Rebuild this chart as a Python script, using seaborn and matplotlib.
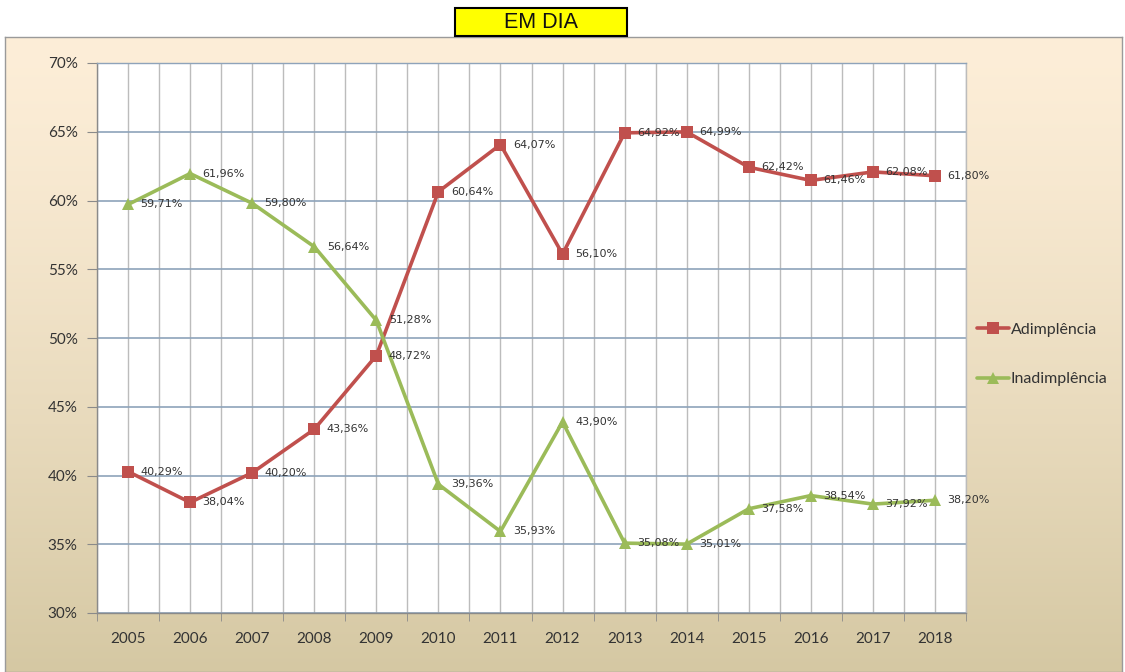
import matplotlib
matplotlib.use('Agg')
import matplotlib.pyplot as plt
import matplotlib.ticker as ticker
from matplotlib.patches import Rectangle
import numpy as np
import pandas as pd
import seaborn as sns

years = [2005, 2006, 2007, 2008, 2009, 2010, 2011, 2012, 2013, 2014, 2015, 2016, 2017, 2018]
adimplencia = [40.29, 38.04, 40.20, 43.36, 48.72, 60.64, 64.07, 56.10, 64.92, 64.99, 62.42, 61.46, 62.08, 61.80]
inadimplencia = [59.71, 61.96, 59.80, 56.64, 51.28, 39.36, 35.93, 43.90, 35.08, 35.01, 37.58, 38.54, 37.92, 38.20]
series_names = ['Adimplência', 'Inadimplência']
y_ticks = [30, 35, 40, 45, 50, 55, 60, 65, 70]
title = 'EM DIA'

df = pd.DataFrame({
    'ano': years * 2,
    'valor': adimplencia + inadimplencia,
    'serie': [series_names[0]] * len(years) + [series_names[1]] * len(years),
})

sns.set_style('white')
plt.rcParams['font.family'] = ['Lato', 'DejaVu Sans']

red = '#c0504d'
green = '#9bbb59'
hgrid = '#8ea3ba'
vgrid = '#bcbcbc'
txt = '#333333'

fig = plt.figure(figsize=(11.25, 6.72), dpi=100)
fig.patch.set_facecolor('white')

# gradient background of the chart area
bg = fig.add_axes([5 / 1125, 0, 1117 / 1125, 635 / 672], zorder=-10)
top = np.array([0xfd, 0xee, 0xd8]) / 255
bot = np.array([0xd5, 0xc8, 0xa3]) / 255
t = np.linspace(0, 1, 256)[:, None] ** 1.3
grad = top[None, :] * (1 - t) + bot[None, :] * t
bg.imshow(grad[:, None, :], aspect='auto', extent=[0, 1, 0, 1])
bg.set_xticks([])
bg.set_yticks([])
for s in bg.spines.values():
    s.set_color('#9a9a9a')
    s.set_linewidth(1)

ax = fig.add_axes([97 / 1125, (672 - 613) / 672, (966 - 97) / 1125, 550 / 672])
ax.set_facecolor('white')

sns.lineplot(data=df, x='ano', y='valor', hue='serie', style='serie',
             palette={series_names[0]: red, series_names[1]: green},
             markers={series_names[0]: 's', series_names[1]: '^'},
             dashes=False, linewidth=2.6, markersize=9, markeredgewidth=0,
             ax=ax, zorder=3)

for vals in (adimplencia, inadimplencia):
    for x, v in zip(years, vals):
        label = f'{v:.2f}'.replace('.', ',') + '%'
        ax.annotate(label, xy=(x, v), xytext=(9, 0), textcoords='offset points',
                    ha='left', va='center', fontsize=8, color=txt,
                    family=['DejaVu Sans'], zorder=4)

ax.set_xlim(2004.5, 2018.5)
ax.set_ylim(30, 70)
ax.set_yticks(y_ticks)
ax.yaxis.set_major_formatter(ticker.FuncFormatter(lambda v, pos: '{:.0f}%'.format(v)))
ax.set_xticks(years)
ax.set_xticklabels([str(y) for y in years])
ax.set_xticks(np.arange(2004.5, 2019, 1.0), minor=True)
ax.tick_params(axis='x', which='major', length=0, pad=14, labelsize=11, labelcolor=txt)
ax.tick_params(axis='x', which='minor', length=6, color='#8a8a8a', direction='out', bottom=True)
ax.tick_params(axis='y', which='major', length=7, color='#8a8a8a', direction='out', left=True,
               pad=7, labelsize=11, labelcolor=txt)
ax.grid(axis='x', which='both', color=vgrid, linewidth=1, zorder=0)
ax.grid(axis='y', which='major', color=hgrid, linewidth=1.2, zorder=0)
ax.set_axisbelow(True)
ax.set_xlabel('')
ax.set_ylabel('')
for name, s in ax.spines.items():
    s.set_linewidth(1)
    s.set_color('#8a8a8a' if name in ('left', 'bottom') else vgrid)
ax.spines['top'].set_color(hgrid)

handles, labels = ax.get_legend_handles_labels()
ax.legend(handles, labels, loc='center left', bbox_to_anchor=(1.0, 0.47), frameon=False,
          fontsize=11.5, labelspacing=2.2, handlelength=2.0, handletextpad=0.1, borderaxespad=0.3,
          labelcolor=txt)

# yellow title box
fig.patches.append(Rectangle((455 / 1125, 1 - 36 / 672), 172 / 1125, 28 / 672,
                             transform=fig.transFigure, facecolor='#ffff00',
                             edgecolor='black', linewidth=1.5, zorder=5))
fig.text(541 / 1125, 1 - 23 / 672, title, ha='center', va='center', fontsize=15.5,
         family=['Liberation Sans'], color='#111111', zorder=6)

fig.savefig('out.png', dpi=100)
plt.close(fig)
